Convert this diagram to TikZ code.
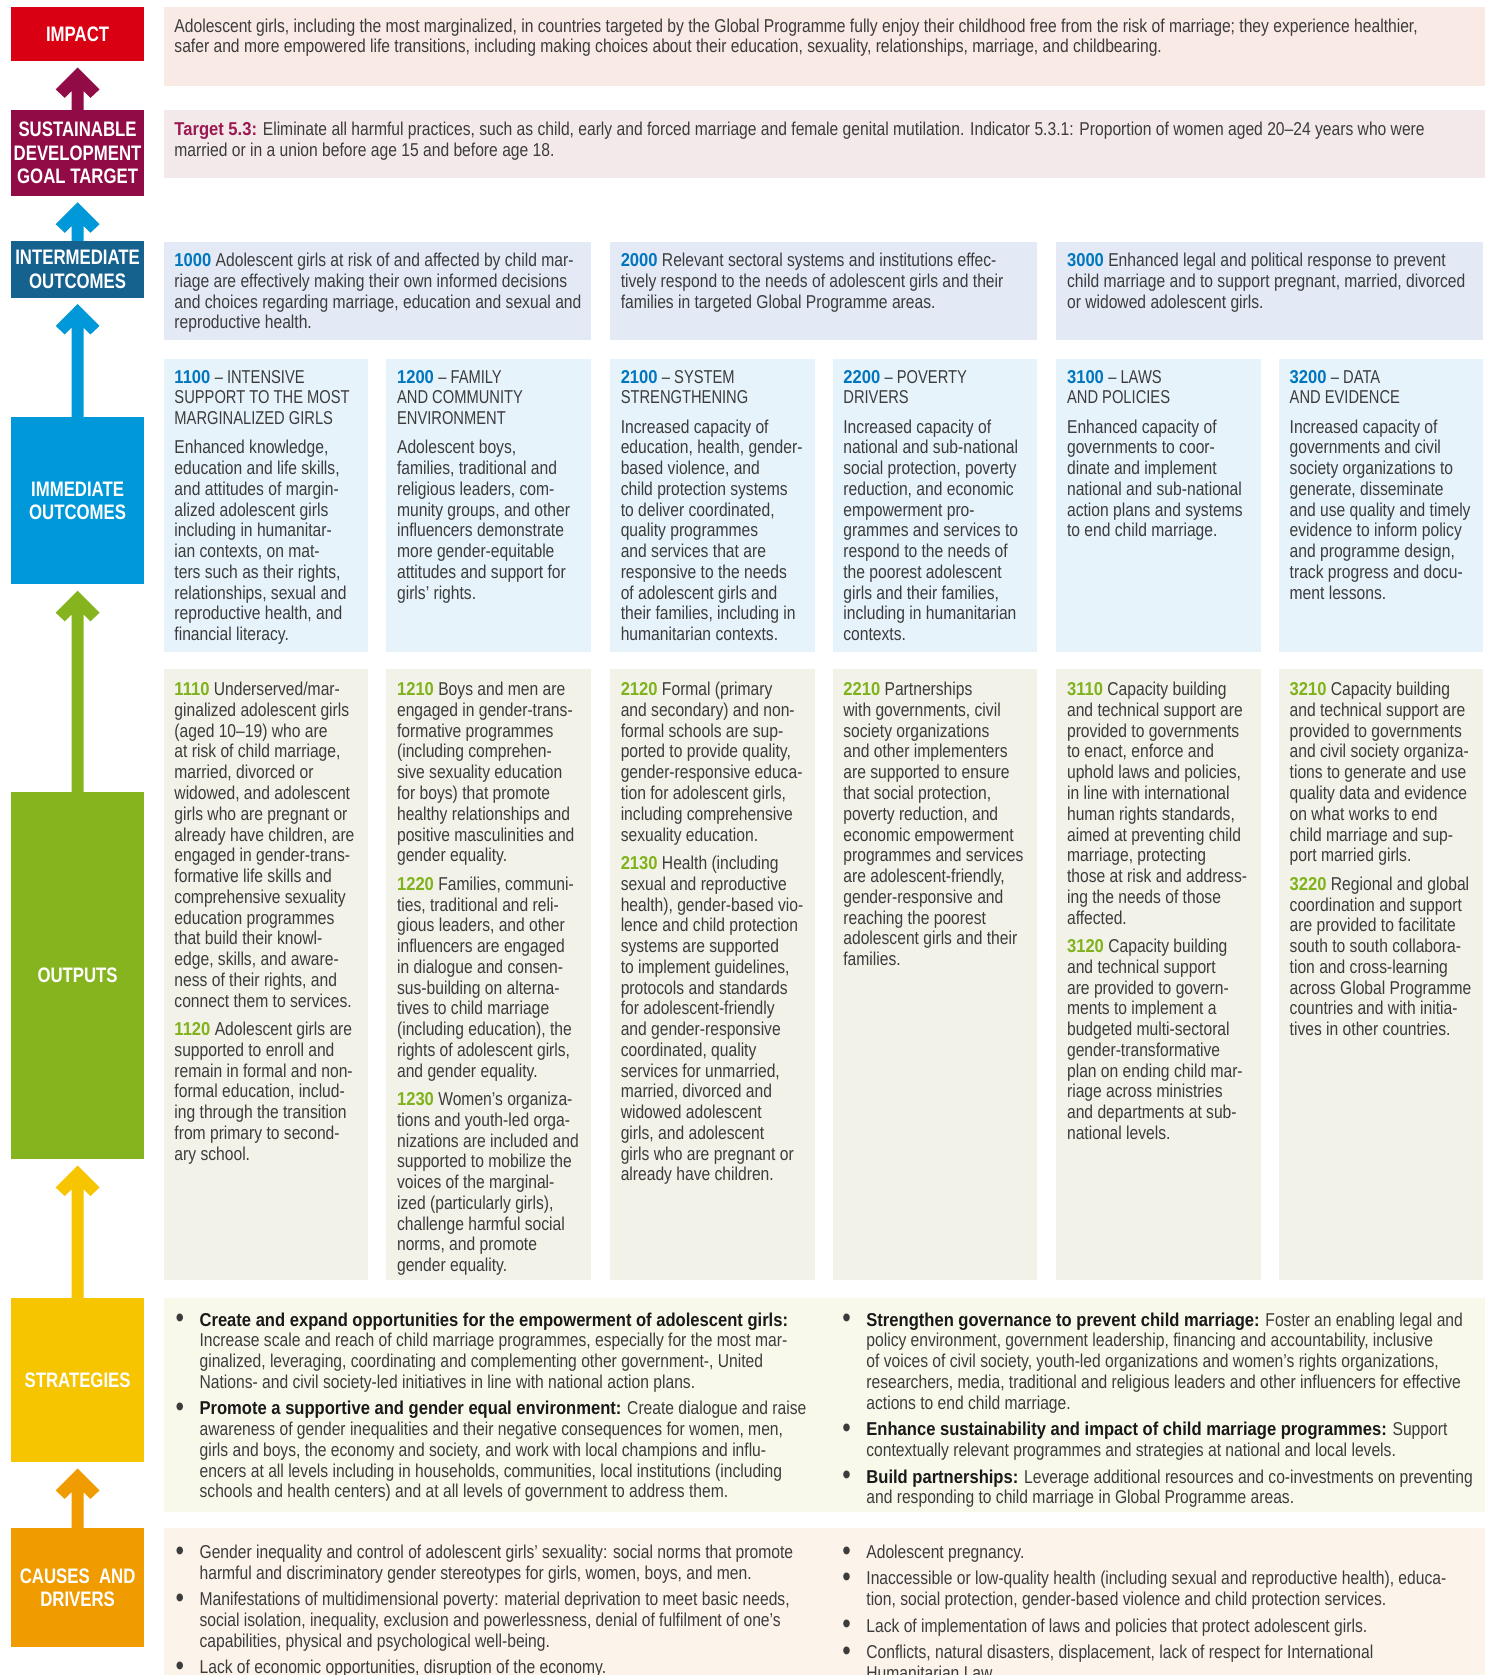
\documentclass[tikz,border=0pt]{standalone}
\usepackage{fontspec}
\setmainfont{Liberation Sans}[FakeStretch=0.84]
\newfontfamily\labfont{Liberation Sans}[FakeStretch=0.8]
\newfontfamily\boldfam{Liberation Sans}[FakeStretch=0.89]
\newfontfamily\headfam{Liberation Sans}[FakeStretch=0.79]
\usetikzlibrary{calc}
\definecolor{cImpact}{RGB}{218,0,20}
\definecolor{cSDG}{RGB}{145,12,70}
\definecolor{cInter}{RGB}{22,98,142}
\definecolor{cImm}{RGB}{0,152,216}
\definecolor{cOut}{RGB}{134,180,30}
\definecolor{cStrat}{RGB}{247,196,0}
\definecolor{cCause}{RGB}{240,156,0}
\definecolor{pImpact}{RGB}{249,234,229}
\definecolor{pSDG}{RGB}{243,233,234}
\definecolor{pInter}{RGB}{227,234,245}
\definecolor{pImm}{RGB}{231,243,251}
\definecolor{pOut}{RGB}{242,242,233}
\definecolor{pStrat}{RGB}{249,249,235}
\definecolor{pCause}{RGB}{252,243,234}
\definecolor{cText}{RGB}{60,60,60}
\definecolor{cBold}{RGB}{25,25,25}
\definecolor{cNumB}{RGB}{0,118,190}
\definecolor{cNumG}{RGB}{128,178,28}
\definecolor{cTarget}{RGB}{155,25,80}
\newcommand\mylns[1]{\begin{tabular}[t]{@{}l@{}}#1\end{tabular}}
\newcommand\mybls[1]{\begin{tabular}[t]{@{}l@{}l@{}}#1\end{tabular}}
\newcommand\mybu{\makebox[22.5pt][l]{\raisebox{-1.6pt}{\scalebox{1.55}{\textbullet}}}}
\newcommand\mynb[1]{{\boldfam\bfseries\color{cNumB}#1}}
\newcommand\myng[1]{{\boldfam\bfseries\color{cNumG}#1}}
\newcommand\mybh[1]{{\boldfam\bfseries\color{cBold}#1}}
\newcommand\myhd[1]{{\headfam #1}}
\newcommand\uparr[3]{%
 \fill[#1] let \p1=(#2.north), \p2=(#3.south) in
   (\x1,\y2-6pt) -- (\x1-20.5pt,\y2-26.5pt) -- (\x1-12pt,\y2-34.5pt) -- (\x1-5.6pt,\y2-28.1pt) -- (\x1-5.6pt,\y1)
   -- (\x1+5.6pt,\y1) -- (\x1+5.6pt,\y2-28.1pt) -- (\x1+12pt,\y2-34.5pt) -- (\x1+20.5pt,\y2-26.5pt) -- cycle;}
\tikzset{
 lab/.style={anchor=north west, inner sep=0, outer sep=0, text=white, align=center,
   font=\labfont\bfseries\fontsize{19.6}{22}\selectfont, minimum width=125pt},
 panel/.style={anchor=north west, inner sep=0, outer sep=0, draw=none},
 txt/.style={anchor=base west, inner sep=0, outer sep=0, text=cText, font=\fontsize{17.4}{19.4}\selectfont},
}
\begin{document}
\begin{tikzpicture}[x=1pt,y=-1pt]
\useasboundingbox (0,0) rectangle (1393,1565);
\fill[white] (0,0) rectangle (1393,1565);
% left column
\node[lab, fill=cImpact, minimum height=50pt] (impact) at (10,7) {IMPACT};
\node[lab, fill=cSDG, minimum height=80pt] (sdg) at (10,103) {SUSTAINABLE\\DEVELOPMENT\\GOAL TARGET};
\node[lab, fill=cInter, minimum height=53pt] (inter) at (10,225) {INTERMEDIATE\\OUTCOMES};
\node[lab, fill=cImm, minimum height=156pt] (imm) at (10,390) {IMMEDIATE\\OUTCOMES};
\node[lab, fill=cOut, minimum height=343pt] (outp) at (10,740) {OUTPUTS};
\node[lab, fill=cStrat, minimum height=153pt] (strat) at (10,1213) {STRATEGIES};
\node[lab, fill=cCause, minimum height=111pt] (cause) at (10,1428) {CAUSES\ \ AND\\DRIVERS};
\uparr{cSDG}{sdg}{impact}
\uparr{cImm}{inter}{sdg}
\uparr{cImm}{imm}{inter}
\uparr{cOut}{outp}{imm}
\uparr{cStrat}{strat}{outp}
\uparr{cCause}{cause}{strat}
% panels
\node[panel, fill=pImpact, minimum width=1234pt, minimum height=73pt] (pimp) at (153,7) {};
\node[panel, fill=pSDG, minimum width=1234pt, minimum height=63pt] (psdg) at (153,103) {};
\node[panel, fill=pInter, minimum width=399pt, minimum height=92pt] (pi1) at (153,226) {};
\node[panel, fill=pInter, minimum width=399pt, minimum height=92pt] (pi2) at (570,226) {};
\node[panel, fill=pInter, minimum width=399pt, minimum height=92pt] (pi3) at (987,226) {};
\node[panel, fill=pImm, minimum width=191pt, minimum height=274pt] (pm1) at (153,335) {};
\node[panel, fill=pImm, minimum width=191pt, minimum height=274pt] (pm2) at (361,335) {};
\node[panel, fill=pImm, minimum width=191pt, minimum height=274pt] (pm3) at (570,335) {};
\node[panel, fill=pImm, minimum width=191pt, minimum height=274pt] (pm4) at (778,335) {};
\node[panel, fill=pImm, minimum width=191pt, minimum height=274pt] (pm5) at (987,335) {};
\node[panel, fill=pImm, minimum width=191pt, minimum height=274pt] (pm6) at (1195,335) {};
\node[panel, fill=pOut, minimum width=191pt, minimum height=571pt] (po1) at (153,625) {};
\node[panel, fill=pOut, minimum width=191pt, minimum height=571pt] (po2) at (361,625) {};
\node[panel, fill=pOut, minimum width=191pt, minimum height=571pt] (po3) at (570,625) {};
\node[panel, fill=pOut, minimum width=191pt, minimum height=571pt] (po4) at (778,625) {};
\node[panel, fill=pOut, minimum width=191pt, minimum height=571pt] (po5) at (987,625) {};
\node[panel, fill=pOut, minimum width=191pt, minimum height=571pt] (po6) at (1195,625) {};
\node[panel, fill=pStrat, minimum width=1234pt, minimum height=200pt] (pst) at (153,1213) {};
\node[panel, fill=pCause, minimum width=1234pt, minimum height=140pt] (pca) at (153,1428) {};
% impact & SDG text
\node[txt] (timp) at (163,30) {\mylns{Adolescent girls, including the most marginalized, in countries targeted by the Global Programme fully enjoy their childhood free from the risk of marriage; they experience healthier,\\
safer and more empowered life transitions, including making choices about their education, sexuality, relationships, marriage, and childbearing.}};
\node[txt] (tsdg) at (163,127) {\mylns{{\boldfam\bfseries\color{cTarget}Target 5.3:} Eliminate all harmful practices, such as child, early and forced marriage and female genital mutilation. Indicator 5.3.1: Proportion of women aged 20–24 years who were\\
married or in a union before age 15 and before age 18.}};
% intermediate
\node[txt] (ti1) at (163,249) {\mylns{\mynb{1000} Adolescent girls at risk of and affected by child mar-\\ riage are effectively making their own informed decisions\\ and choices regarding marriage, education and sexual and\\ reproductive health.}};
\node[txt] (ti2) at (580,249) {\mylns{\mynb{2000} Relevant sectoral systems and institutions effec-\\ tively respond to the needs of adolescent girls and their\\ families in targeted Global Programme areas.}};
\node[txt] (ti3) at (997,249) {\mylns{\mynb{3000} Enhanced legal and political response to prevent\\ child marriage and to support pregnant, married, divorced\\ or widowed adolescent girls.}};
% immediate
\node[txt] (tm1) at (163,358) {\mylns{\mynb{1100} \myhd{– INTENSIVE}\\ \myhd{SUPPORT TO THE MOST}\\ \myhd{MARGINALIZED GIRLS}\\[7.8pt] Enhanced knowledge,\\ education and life skills,\\ and attitudes of margin-\\ alized adolescent girls\\ including in humanitar-\\ ian contexts, on mat-\\ ters such as their rights,\\ relationships, sexual and\\ reproductive health, and\\ financial literacy.}};
\node[txt] (tm2) at (371,358) {\mylns{\mynb{1200} \myhd{– FAMILY}\\ \myhd{AND COMMUNITY}\\ \myhd{ENVIRONMENT}\\[7.8pt] Adolescent boys,\\ families, traditional and\\ religious leaders, com-\\ munity groups, and other\\ influencers demonstrate\\ more gender-equitable\\ attitudes and support for\\ girls’ rights.}};
\node[txt] (tm3) at (580,358) {\mylns{\mynb{2100} \myhd{– SYSTEM}\\ \myhd{STRENGTHENING}\\[7.8pt] Increased capacity of\\ education, health, gender-\\ based violence, and\\ child protection systems\\ to deliver coordinated,\\ quality programmes\\ and services that are\\ responsive to the needs\\ of adolescent girls and\\ their families, including in\\ humanitarian contexts.}};
\node[txt] (tm4) at (788,358) {\mylns{\mynb{2200} \myhd{– POVERTY}\\ \myhd{DRIVERS}\\[7.8pt] Increased capacity of\\ national and sub-national\\ social protection, poverty\\ reduction, and economic\\ empowerment pro-\\ grammes and services to\\ respond to the needs of\\ the poorest adolescent\\ girls and their families,\\ including in humanitarian\\ contexts.}};
\node[txt] (tm5) at (997,358) {\mylns{\mynb{3100} \myhd{– LAWS}\\ \myhd{AND POLICIES}\\[7.8pt] Enhanced capacity of\\ governments to coor-\\ dinate and implement\\ national and sub-national\\ action plans and systems\\ to end child marriage.}};
\node[txt] (tm6) at (1205,358) {\mylns{\mynb{3200} \myhd{– DATA}\\ \myhd{AND EVIDENCE}\\[7.8pt] Increased capacity of\\ governments and civil\\ society organizations to\\ generate, disseminate\\ and use quality and timely\\ evidence to inform policy\\ and programme design,\\ track progress and docu-\\ ment lessons.}};
% outputs
\node[txt] (to1) at (163,650) {\mylns{\myng{1110} Underserved/mar-\\ ginalized adolescent girls\\ (aged 10–19) who are\\ at risk of child marriage,\\ married, divorced or\\ widowed, and adolescent\\ girls who are pregnant or\\ already have children, are\\ engaged in gender-trans-\\ formative life skills and\\ comprehensive sexuality\\ education programmes\\ that build their knowl-\\ edge, skills, and aware-\\ ness of their rights, and\\ connect them to services.\\[7.2pt] \myng{1120} Adolescent girls are\\ supported to enroll and\\ remain in formal and non-\\ formal education, includ-\\ ing through the transition\\ from primary to second-\\ ary school.}};
\node[txt] (to2) at (371,650) {\mylns{\myng{1210} Boys and men are\\ engaged in gender-trans-\\ formative programmes\\ (including comprehen-\\ sive sexuality education\\ for boys) that promote\\ healthy relationships and\\ positive masculinities and\\ gender equality.\\[7.2pt] \myng{1220} Families, communi-\\ ties, traditional and reli-\\ gious leaders, and other\\ influencers are engaged\\ in dialogue and consen-\\ sus-building on alterna-\\ tives to child marriage\\ (including education), the\\ rights of adolescent girls,\\ and gender equality.\\[7.2pt] \myng{1230} Women’s organiza-\\ tions and youth-led orga-\\ nizations are included and\\ supported to mobilize the\\ voices of the marginal-\\ ized (particularly girls),\\ challenge harmful social\\ norms, and promote\\ gender equality.}};
\node[txt] (to3) at (580,650) {\mylns{\myng{2120} Formal (primary\\ and secondary) and non-\\ formal schools are sup-\\ ported to provide quality,\\ gender-responsive educa-\\ tion for adolescent girls,\\ including comprehensive\\ sexuality education.\\[7.2pt] \myng{2130} Health (including\\ sexual and reproductive\\ health), gender-based vio-\\ lence and child protection\\ systems are supported\\ to implement guidelines,\\ protocols and standards\\ for adolescent-friendly\\ and gender-responsive\\ coordinated, quality\\ services for unmarried,\\ married, divorced and\\ widowed adolescent\\ girls, and adolescent\\ girls who are pregnant or\\ already have children.}};
\node[txt] (to4) at (788,650) {\mylns{\myng{2210} Partnerships\\ with governments, civil\\ society organizations\\ and other implementers\\ are supported to ensure\\ that social protection,\\ poverty reduction, and\\ economic empowerment\\ programmes and services\\ are adolescent-friendly,\\ gender-responsive and\\ reaching the poorest\\ adolescent girls and their\\ families.}};
\node[txt] (to5) at (997,650) {\mylns{\myng{3110} Capacity building\\ and technical support are\\ provided to governments\\ to enact, enforce and\\ uphold laws and policies,\\ in line with international\\ human rights standards,\\ aimed at preventing child\\ marriage, protecting\\ those at risk and address-\\ ing the needs of those\\ affected.\\[7.2pt] \myng{3120} Capacity building\\ and technical support\\ are provided to govern-\\ ments to implement a\\ budgeted multi-sectoral\\ gender-transformative\\ plan on ending child mar-\\ riage across ministries\\ and departments at sub-\\ national levels.}};
\node[txt] (to6) at (1205,650) {\mylns{\myng{3210} Capacity building\\ and technical support are\\ provided to governments\\ and civil society organiza-\\ tions to generate and use\\ quality data and evidence\\ on what works to end\\ child marriage and sup-\\ port married girls.\\[7.2pt] \myng{3220} Regional and global\\ coordination and support\\ are provided to facilitate\\ south to south collabora-\\ tion and cross-learning\\ across Global Programme\\ countries and with initia-\\ tives in other countries.}};
% strategies
\node[txt] (ts1) at (164,1239) {\mybls{\mybu & \mybh{Create and expand opportunities for the empowerment of adolescent girls:}\\
 & Increase scale and reach of child marriage programmes, especially for the most mar-\\
 & ginalized, leveraging, coordinating and complementing other government-, United\\
 & Nations- and civil society-led initiatives in line with national action plans.\\[5.4pt]
\mybu & \mybh{Promote a supportive and gender equal environment:} Create dialogue and raise\\
 & awareness of gender inequalities and their negative consequences for women, men,\\
 & girls and boys, the economy and society, and work with local champions and influ-\\
 & encers at all levels including in households, communities, local institutions (including\\
 & schools and health centers) and at all levels of government to address them.}};
\node[txt] (ts2) at (787,1239) {\mybls{\mybu & \mybh{Strengthen governance to prevent child marriage:} Foster an enabling legal and\\
 & policy environment, government leadership, financing and accountability, inclusive\\
 & of voices of civil society, youth-led organizations and women’s rights organizations,\\
 & researchers, media, traditional and religious leaders and other influencers for effective\\
 & actions to end child marriage.\\[5.4pt]
\mybu & \mybh{Enhance sustainability and impact of child marriage programmes:} Support\\
 & contextually relevant programmes and strategies at national and local levels.\\[5.4pt]
\mybu & \mybh{Build partnerships:} Leverage additional resources and co-investments on preventing\\
 & and responding to child marriage in Global Programme areas.}};
% causes
\node[txt] (tc1) at (164,1456) {\mybls{\mybu & Gender inequality and control of adolescent girls’ sexuality: social norms that promote\\
 & harmful and discriminatory gender stereotypes for girls, women, boys, and men.\\[5.4pt]
\mybu & Manifestations of multidimensional poverty: material deprivation to meet basic needs,\\
 & social isolation, inequality, exclusion and powerlessness, denial of fulfilment of one’s\\
 & capabilities, physical and psychological well-being.\\[5.4pt]
\mybu & Lack of economic opportunities, disruption of the economy.}};
\node[txt] (tc2) at (787,1456) {\mybls{\mybu & Adolescent pregnancy.\\[5.4pt]
\mybu & Inaccessible or low-quality health (including sexual and reproductive health), educa-\\
 & tion, social protection, gender-based violence and child protection services.\\[5.4pt]
\mybu & Lack of implementation of laws and policies that protect adolescent girls.\\[5.4pt]
\mybu & Conflicts, natural disasters, displacement, lack of respect for International\\
 & Humanitarian Law.}};
\end{tikzpicture}
\end{document}
